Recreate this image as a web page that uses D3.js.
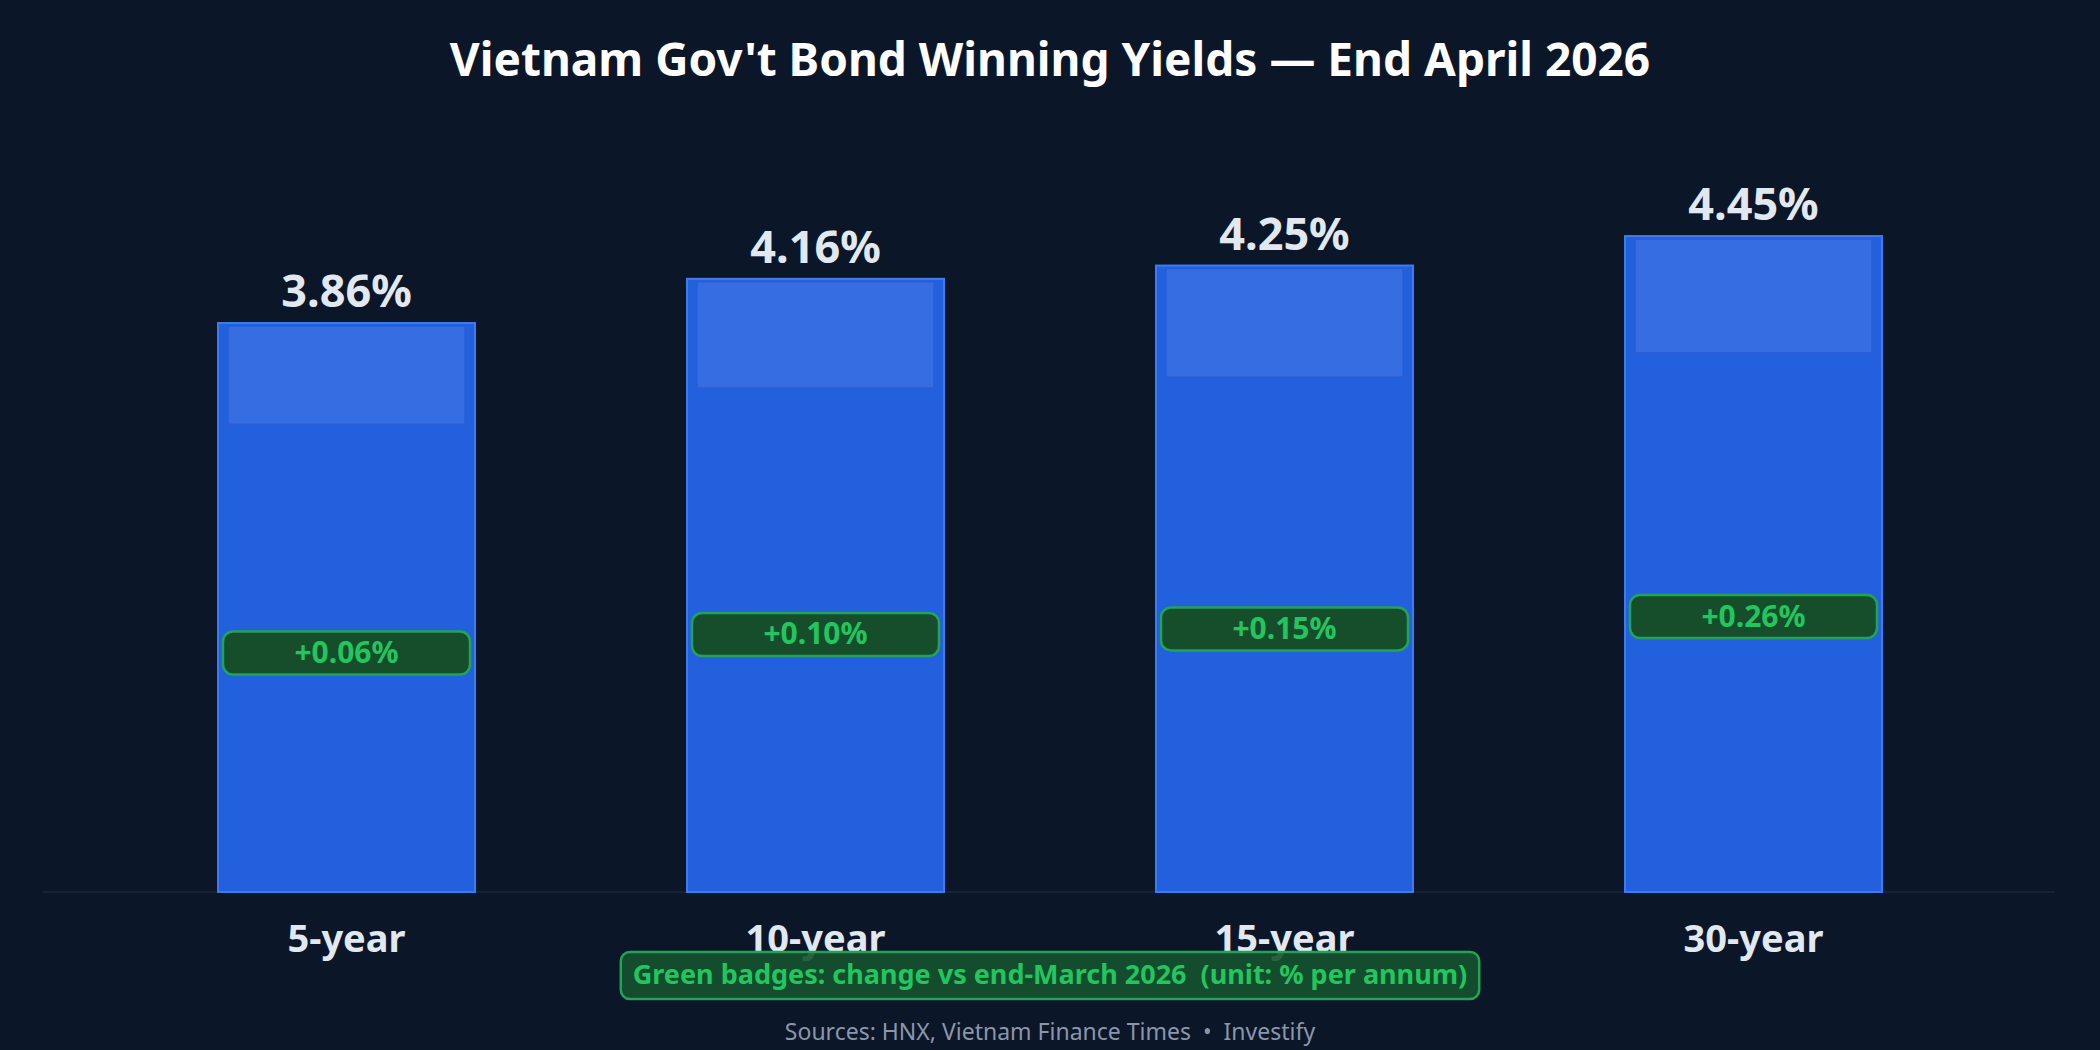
<!DOCTYPE html>
<html>
<head>
<meta charset="utf-8">
<script src="https://cdn.jsdelivr.net/npm/d3@7"></script>
<style>
  html, body { margin: 0; padding: 0; background: #0b1628; }
  svg { display: block; }
  text { font-family: "Noto Sans", "Open Sans", sans-serif; }
</style>
</head>
<body>
<svg id="chart" width="2100" height="1050"></svg>
<script>
// data
var tenors = ["5-year", "10-year", "15-year", "30-year"];
var yields = [3.86, 4.16, 4.25, 4.45];
var changes = ["+0.06%", "+0.10%", "+0.15%", "+0.26%"];

var title = "Vietnam Gov't Bond Winning Yields \u2014 End April 2026";
var legendText = "Green badges: change vs end-March 2026\u00a0\u00a0(unit: % per annum)";
var sourceText = "Sources: HNX, Vietnam Finance Times\u00a0\u00a0\u2022\u00a0\u00a0Investify";

var W = 2100, H = 1050;
var baseY = 892;

var svg = d3.select("#chart");

svg.append("rect")
  .attr("width", W).attr("height", H)
  .attr("fill", "#0b1628");

var x = d3.scaleBand()
  .domain(tenors)
  .range([44, 2056])
  .paddingInner(0.452)
  .paddingOuter(0.371);

var y = d3.scaleLinear()
  .domain([0, 5])
  .range([baseY, baseY - 737]);

var data = tenors.map(function(t, i) {
  return { tenor: t, value: yields[i], change: changes[i] };
});

// title
svg.append("text")
  .attr("x", W / 2).attr("y", 76)
  .attr("text-anchor", "middle")
  .attr("font-size", 46).attr("font-weight", 700)
  .attr("fill", "#ffffff")
  .text(title);

// baseline
svg.append("line")
  .attr("x1", 43).attr("x2", 2055)
  .attr("y1", baseY).attr("y2", baseY)
  .attr("stroke", "#172233").attr("stroke-width", 2);

var g = svg.selectAll("g.bar")
  .data(data)
  .enter()
  .append("g")
  .attr("class", "bar");

g.append("rect")
  .attr("x", function(d) { return x(d.tenor); })
  .attr("y", function(d) { return y(d.value); })
  .attr("width", x.bandwidth())
  .attr("height", function(d) { return baseY - y(d.value); })
  .attr("fill", "#2360de")
  .attr("stroke", "#3d7cf0")
  .attr("stroke-width", 2);

// lighter top section
g.append("rect")
  .attr("x", function(d) { return x(d.tenor) + 10; })
  .attr("y", function(d) { return y(d.value) + 3; })
  .attr("width", x.bandwidth() - 20)
  .attr("height", function(d) { return (baseY - y(d.value)) * 0.178 - 3; })
  .attr("fill", "#ffffff")
  .attr("fill-opacity", 0.09)
  .attr("stroke", "#2a5ed6")
  .attr("stroke-width", 1.5);

// value labels
g.append("text")
  .attr("x", function(d) { return x(d.tenor) + x.bandwidth() / 2; })
  .attr("y", function(d) { return y(d.value) - 16; })
  .attr("text-anchor", "middle")
  .attr("font-size", 45).attr("font-weight", 700)
  .attr("fill", "#e2e8f0")
  .text(function(d) { return d.value.toFixed(2) + "%"; });

// change badges
var badgeH = 43;
g.append("rect")
  .attr("x", function(d) { return x(d.tenor) + 5; })
  .attr("y", function(d) { return y(d.value * 0.42) - badgeH / 2; })
  .attr("width", x.bandwidth() - 10)
  .attr("height", badgeH)
  .attr("rx", 10)
  .attr("fill", "#164e2c")
  .attr("stroke", "#22a355")
  .attr("stroke-width", 2.5);

g.append("text")
  .attr("x", function(d) { return x(d.tenor) + x.bandwidth() / 2; })
  .attr("y", function(d) { return y(d.value * 0.42) + 10; })
  .attr("text-anchor", "middle")
  .attr("font-size", 30).attr("font-weight", 700)
  .attr("fill", "#22c55e")
  .text(function(d) { return d.change; });

// category labels
svg.selectAll("text.cat")
  .data(tenors)
  .enter()
  .append("text")
  .attr("class", "cat")
  .attr("x", function(d) { return x(d) + x.bandwidth() / 2; })
  .attr("y", 952)
  .attr("text-anchor", "middle")
  .attr("font-size", 38).attr("font-weight", 700)
  .attr("fill", "#e2e8f0")
  .text(function(d) { return d; });

// legend badge (sits over the descenders of the middle labels, as in the source)
var legend = svg.append("g");
var lt = legend.append("text")
  .attr("x", W / 2).attr("y", 984)
  .attr("text-anchor", "middle")
  .attr("font-size", 27).attr("font-weight", 700)
  .attr("fill", "#22c55e")
  .text(legendText);
var bb = lt.node().getBBox();
legend.insert("rect", "text")
  .attr("x", bb.x - 12).attr("y", 952)
  .attr("width", bb.width + 24).attr("height", 47)
  .attr("rx", 9)
  .attr("fill", "#14532d").attr("fill-opacity", 0.9)
  .attr("stroke", "#22a355").attr("stroke-width", 2.5);

// source line
svg.append("text")
  .attr("x", W / 2).attr("y", 1040)
  .attr("text-anchor", "middle")
  .attr("font-size", 23)
  .attr("fill", "#8a97ab")
  .text(sourceText);
</script>
</body>
</html>
